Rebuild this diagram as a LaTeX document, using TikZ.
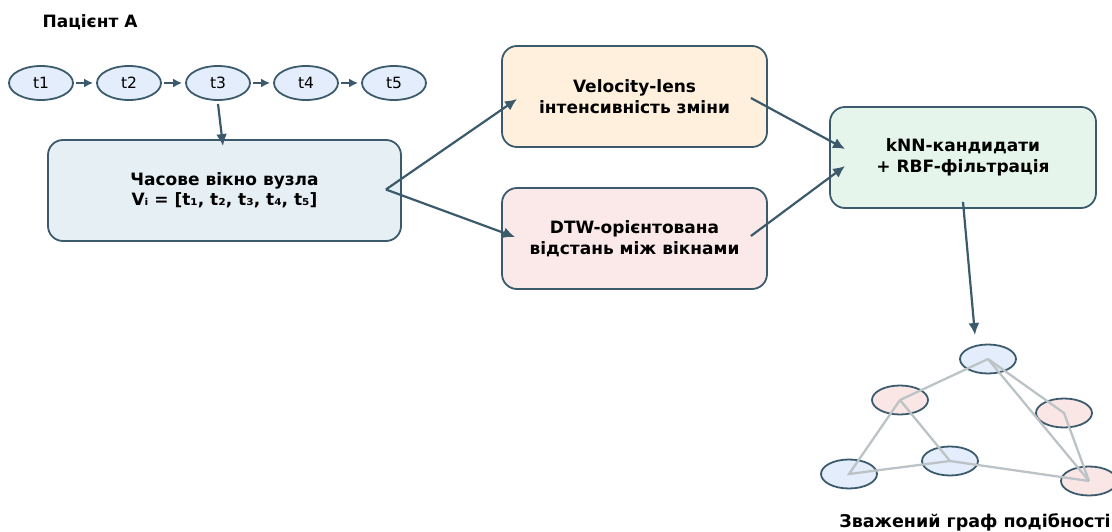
\documentclass[tikz,border=0pt]{standalone}
\usepackage{fontspec}
\setmainfont{DejaVu Sans}
\usetikzlibrary{arrows.meta,calc,shapes.geometric}
\definecolor{edgec}{HTML}{3B5A6C}
\definecolor{box1c}{HTML}{E6EFF3}
\definecolor{velc}{HTML}{FEF0DD}
\definecolor{dtwc}{HTML}{FBE9E9}
\definecolor{knnc}{HTML}{E6F5EC}
\definecolor{tnodec}{HTML}{E3EDFB}
\definecolor{gblue}{HTML}{E3EDFB}
\definecolor{gpink}{HTML}{FBE6E6}
\definecolor{gedge}{HTML}{BCC3C7}
\tikzset{
  tnode/.style={ellipse, draw=edgec, line width=1.8pt, fill=tnodec, minimum width=64pt, minimum height=34pt, inner sep=0pt, font=\fontsize{15.5}{18}\selectfont},
  gnode/.style={ellipse, draw=edgec, line width=1.8pt, minimum width=56pt, minimum height=29pt, inner sep=0pt},
  pbox/.style={rounded corners=15pt, draw=edgec, line width=1.8pt, minimum width=265pt, minimum height=101pt, inner sep=0pt, align=center, font=\bfseries\fontsize{17}{20.5}\selectfont},
  arr/.style={draw=edgec, line width=2.2pt, -{Latex[length=12pt,width=11pt]}},
  sarr/.style={draw=edgec, line width=2.2pt, -{Latex[length=9pt,width=9pt]}},
  gline/.style={draw=gedge, line width=2.3pt},
}
\begin{document}
\begin{tikzpicture}[x=1pt,y=-1pt]
\useasboundingbox (0,0) rectangle (1112,532);
\node[font=\bfseries\fontsize{17}{20}\selectfont] (title) at (90,22) {Пацієнт А};
\node[tnode] (t1) at (41,83) {t1};
\node[tnode] (t2) at (129,83) {t2};
\node[tnode] (t3) at (218,83) {t3};
\node[tnode] (t4) at (306,83) {t4};
\node[tnode] (t5) at (394,83) {t5};
\foreach \a/\b in {t1/t2,t2/t3,t3/t4,t4/t5}
  \draw[sarr, shorten <=2pt, shorten >=3pt] (\a.east) -- (\b.west);

\node[pbox, fill=box1c, minimum width=353pt] (win) at (224.5,190.5) {Часове вікно вузла\\Vᵢ = [t₁, t₂, t₃, t₄, t₅]};
\node[pbox, fill=velc] (vel) at (634.5,96.5) {Velocity-lens\\інтенсивність зміни};
\node[pbox, fill=dtwc] (dtw) at (634.5,238.5) {DTW-орієнтована\\відстань між вікнами};
\node[pbox, fill=knnc, minimum width=266pt] (knn) at (963,157.5) {kNN-кандидати\\+ RBF-фільтрація};

\coordinate (gout) at (975,335);
\draw[arr] ($(t3.south)+(0,3)$) -- ($(win.north)+(-1.5,7)$);
\draw[arr] ($(win.east)+(-16,-1)$) -- ($(vel.west)+(16,2.5)$);
\draw[arr] ($(win.east)+(-16,-1)$) -- ($(dtw.west)+(14,-1.5)$);
\draw[arr] ($(vel.east)+(-17,1.5)$) -- ($(knn.west)+(16,-8.5)$);
\draw[arr] ($(dtw.east)+(-17,-2.5)$) -- ($(knn.west)+(16,8.5)$);
\draw[arr] ($(knn.south)+(0,-7)$) -- (gout);

\node[gnode, fill=gblue] (ga) at (988,359) {};
\node[gnode, fill=gpink] (gb) at (900,400) {};
\node[gnode, fill=gpink] (gc) at (1064,413) {};
\node[gnode, fill=gblue] (gd) at (849,474) {};
\node[gnode, fill=gblue] (ge) at (950,461) {};
\node[gnode, fill=gpink] (gf) at (1089,481) {};
\draw[gline] (ga.center) -- (gb.center);
\draw[gline] (ga.center) -- (gc.center) -- (gf.center);
\draw[gline] (ga.center) -- (gf.center);
\draw[gline] (gb.center) -- (gd.center) -- (ge.center) -- (gb.center);
\draw[gline] (ge.center) -- (gf.center);
\node[font=\bfseries\fontsize{17.5}{20}\selectfont] (glabel) at (975,522) {Зважений граф подібності};
\end{tikzpicture}
\end{document}
